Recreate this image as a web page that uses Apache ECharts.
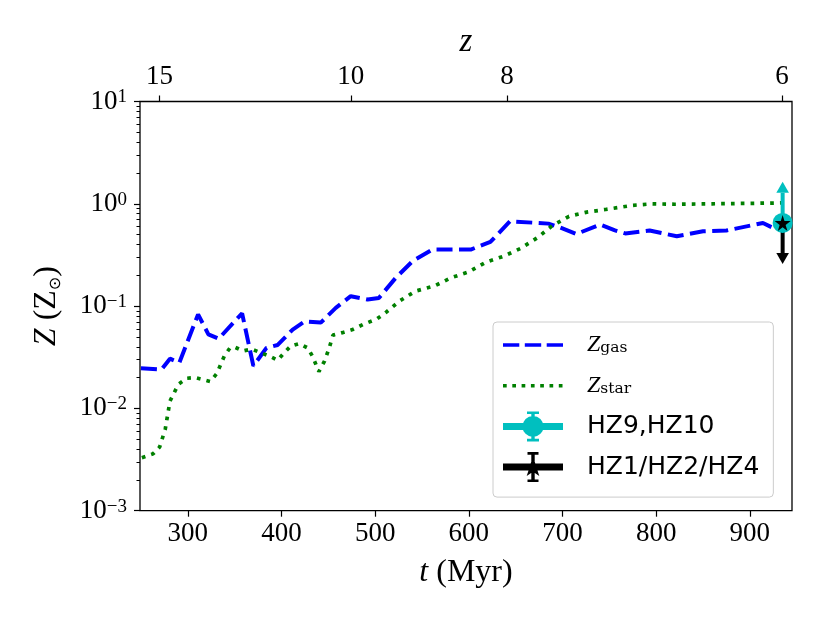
<!DOCTYPE html>
<html>
<head>
<meta charset="utf-8">
<script src="https://cdn.jsdelivr.net/npm/echarts@6/dist/echarts.min.js"></script>
<style>
  html, body { margin: 0; padding: 0; background: #fff; }
  #main { width: 830px; height: 623px; }
</style>
</head>
<body>
<div id="main"></div>
<script>
// gas metallicity, dashed blue line
var gasT = [250, 272, 281, 291, 311, 322, 333, 358, 370, 384, 396, 412, 425, 442, 458, 474, 492, 504, 522, 540,
  561, 602, 623, 644, 685, 696, 715, 740, 756, 767, 793, 822, 850, 875, 914, 925, 935];
var gasZ = [0.0247, 0.024, 0.0306, 0.028, 0.083, 0.053, 0.048, 0.085, 0.026, 0.039, 0.0417, 0.059, 0.071, 0.069, 0.096, 0.125, 0.116, 0.12, 0.189, 0.275,
  0.357, 0.357, 0.424, 0.675, 0.64, 0.594, 0.507, 0.627, 0.55, 0.513, 0.548, 0.482, 0.539, 0.548, 0.65, 0.58, 0.62];

// stellar metallicity, dotted green line
var starT = [251, 263, 270, 276, 281, 290, 299, 308, 324, 331, 339, 345, 350, 359, 368, 378, 387, 396, 403, 410,
  419, 428, 433, 440, 446, 451, 455, 465, 476, 487, 502, 511, 526, 543, 563, 581, 600, 618, 637, 655,
  673, 689, 707, 726, 746, 775, 796, 820, 860, 900, 935];
var starZ = [0.0033, 0.0036, 0.0042, 0.0063, 0.0118, 0.0172, 0.0197, 0.02, 0.0183, 0.0219, 0.0325, 0.039, 0.0398, 0.0364, 0.038, 0.035, 0.0325, 0.0296, 0.035, 0.0407,
  0.043, 0.039, 0.0325, 0.0229, 0.029, 0.039, 0.052, 0.055, 0.059, 0.066, 0.075, 0.086, 0.112, 0.14, 0.157, 0.189, 0.216, 0.268, 0.307, 0.365,
  0.464, 0.61, 0.755, 0.83, 0.88, 0.966, 1.0, 0.99, 1.0, 1.01, 1.02];

// observations at z~6 (value, limit end)
var hzT = 935;
var hz910Z = 0.65, hz910Lim = 1.28;   // lower limit, arrow up
var hz124Z = 0.65, hz124Lim = 0.33;   // upper limit, arrow down

// tick labels
var xTicks = [300, 400, 500, 600, 700, 800, 900];
var zTicks = [15, 10, 8, 6];
var zTickT = [269.8, 474, 640.8, 934.3];
var yMajor = [0.001, 0.01, 0.1, 1, 10];

var yMinor = [];
for (var d = -3; d < 1; d++) {
  for (var k = 2; k < 10; k++) yMinor.push(+(k * Math.pow(10, d)).toPrecision(3));
}

function pairs(a, b) { return a.map(function (t, i) { return [t, b[i]]; }); }

var serif = 'Liberation Serif';
var sans = 'DejaVu Sans';
var cyan = '#00bfbf';

// arrow errorbar (shaft + caret head)
function arrowItem(params, api) {
  var p0 = api.coord([api.value(0), api.value(1)]);
  var p1 = api.coord([api.value(0), api.value(2)]);
  var dir = p1[1] < p0[1] ? -1 : 1;
  var c = api.visual('color');
  return {
    type: 'group',
    children: [
      { type: 'line', shape: { x1: p0[0], y1: p0[1], x2: p1[0], y2: p1[1] }, style: { stroke: c, lineWidth: 4 } },
      { type: 'polygon', shape: { points: [[p1[0] - 6.3, p1[1]], [p1[0] + 6.3, p1[1]], [p1[0], p1[1] + dir * 11]] }, style: { fill: c } }
    ]
  };
}

var starPath = 'path://M50,0 L61,35 L98,35 L68,57 L79,91 L50,70 L21,91 L32,57 L2,35 L39,35 Z';

// legend icons drawn in a 60x30 box
var box = 'M0 0 M60 30 ';
function rect(x, y, w, h) { return 'M' + x + ' ' + y + ' h' + w + ' v' + h + ' h' + (-w) + ' Z '; }
var iconGas = 'path://' + box + rect(0, 13.2, 16.3, 3.6) + rect(21.8, 13.2, 16.4, 3.6) + rect(43.7, 13.2, 16.3, 3.6);
var iconStar = 'path://' + box + [0, 9.3, 18.6, 27.9, 37.2, 46.5, 55.8].map(function (x) { return rect(x, 13.2, 3.7, 3.6); }).join('');
var iconHz910 = 'path://' + box + rect(0, 11.5, 60, 7) + rect(28.3, 0, 3.4, 30) + rect(24, 0, 12, 2.6) + rect(24, 27.4, 12, 2.6) +
  'M40.5 15 A10.5 10.5 0 1 1 19.5 15 A10.5 10.5 0 1 1 40.5 15 Z';
var iconHz124 = 'path://' + box + rect(0, 11.5, 60, 7) + rect(28.3, 0, 3.4, 30) + rect(24.5, 0, 11, 2.6) + rect(24.5, 27.4, 11, 2.6) +
  'M30 5 L32.6 12.2 L40 12.2 L34 16.8 L36.3 24 L30 19.6 L23.7 24 L26 16.8 L20 12.2 L27.4 12.2 Z';

var legendText = {
  'Zgas': '{sp| }{z|Z}{sub|gas}',
  'Zstar': '{sp| }{z|Z}{sub|star}',
  'HZ9,HZ10': '{sp| }{h|HZ9,HZ10}',
  'HZ1/HZ2/HZ4': '{sp| }{h|HZ1/HZ2/HZ4}'
};

var myChart = echarts.init(document.getElementById('main'));

var option = {
  animation: false,
  backgroundColor: '#fff',
  grid: {
    left: 140, right: 38, top: 101.5, bottom: 112.3,
    show: true, borderColor: '#000', borderWidth: 1.3,
    outerBoundsMode: 'none'
  },
  xAxis: [
    {
      type: 'value', position: 'bottom', min: 249, max: 945,
      axisLine: { show: false },
      splitLine: { show: false },
      axisTick: { show: true, length: 6, customValues: xTicks, lineStyle: { color: '#000', width: 1.2 } },
      axisLabel: { customValues: xTicks, margin: 10, color: '#000', fontFamily: serif, fontSize: 27 },
      name: '{i|t}{r| (Myr)}',
      nameLocation: 'middle',
      nameGap: 46,
      nameTextStyle: {
        rich: {
          i: { fontFamily: serif, fontStyle: 'italic', fontSize: 32, color: '#000' },
          r: { fontFamily: serif, fontSize: 32, color: '#000' }
        }
      }
    },
    {
      type: 'value', position: 'top', min: 249, max: 945,
      axisLine: { show: false },
      splitLine: { show: false },
      axisTick: { show: true, length: 6, customValues: zTickT, lineStyle: { color: '#000', width: 1.2 } },
      axisLabel: {
        customValues: zTickT, margin: 11, color: '#000', fontFamily: serif, fontSize: 27,
        formatter: function (v) {
          var i = zTickT.indexOf(v);
          return i < 0 ? '' : String(zTicks[i]);
        }
      },
      name: 'z',
      nameLocation: 'middle',
      nameGap: 42,
      nameTextStyle: { fontFamily: serif, fontStyle: 'italic', fontSize: 33, color: '#000' }
    }
  ],
  yAxis: [
    {
      type: 'log', logBase: 10, min: 0.001, max: 10, position: 'left',
      axisLine: { show: false },
      splitLine: { show: false },
      axisTick: { show: true, length: 6, customValues: yMajor, lineStyle: { color: '#000', width: 1.2 } },
      axisLabel: {
        customValues: yMajor, margin: 13, color: '#000',
        formatter: function (v) {
          var e = Math.round(Math.log10(v));
          return '{b|10}{s|' + (e < 0 ? '\u2212' + (-e) : e) + '}';
        },
        rich: {
          b: { fontFamily: serif, fontSize: 27, lineHeight: 27, color: '#000' },
          s: { fontFamily: serif, fontSize: 19, lineHeight: 19, verticalAlign: 'top', color: '#000' }
        }
      },
      name: '{i|Z}{r| (Z}{o|\u2299}{r|)}',
      nameLocation: 'middle',
      nameRotate: 90,
      nameGap: 76,
      nameTextStyle: {
        rich: {
          i: { fontFamily: serif, fontStyle: 'italic', fontSize: 32, lineHeight: 34, color: '#000' },
          r: { fontFamily: serif, fontSize: 32, lineHeight: 34, color: '#000' },
          o: { fontFamily: 'DejaVu Sans', fontSize: 16, lineHeight: 16, verticalAlign: 'bottom', color: '#000' }
        }
      }
    },
    {
      type: 'log', logBase: 10, min: 0.001, max: 10, position: 'left',
      axisLine: { show: false },
      splitLine: { show: false },
      axisLabel: { show: false },
      axisTick: { show: true, length: 3.5, customValues: yMinor, lineStyle: { color: '#000', width: 1 } }
    }
  ],
  legend: {
    orient: 'vertical',
    left: 493, top: 322,
    padding: [8, 14, 15, 10],
    itemWidth: 60, itemHeight: 30, itemGap: 10.7,
    backgroundColor: 'rgba(255,255,255,0.8)',
    borderColor: '#cccccc', borderWidth: 1, borderRadius: 4,
    selectedMode: false,
    itemStyle: { borderWidth: 0 },
    data: [
      { name: 'Zgas', icon: iconGas, itemStyle: { color: '#0000ff', borderWidth: 0 } },
      { name: 'Zstar', icon: iconStar, itemStyle: { color: '#008000', borderWidth: 0 } },
      { name: 'HZ9,HZ10', icon: iconHz910, itemStyle: { color: cyan, borderWidth: 0 } },
      { name: 'HZ1/HZ2/HZ4', icon: iconHz124, itemStyle: { color: '#000', borderWidth: 0 } }
    ],
    formatter: function (name) { return legendText[name]; },
    textStyle: {
      color: '#000',
      rich: {
        sp: { width: 19, fontSize: 10 },
        z: { fontFamily: serif, fontStyle: 'italic', fontSize: 24, lineHeight: 30, color: '#000' },
        sub: { fontFamily: 'DejaVu Serif', fontSize: 15.5, lineHeight: 15, verticalAlign: 'bottom', padding: [0, 0, 4, 0], color: '#000' },
        h: { fontFamily: sans, fontSize: 25, lineHeight: 30, color: '#000' }
      }
    }
  },
  series: [
    {
      name: 'Zgas', type: 'line', xAxisIndex: 0, yAxisIndex: 0, z: 2,
      data: pairs(gasT, gasZ),
      symbol: 'none', showSymbol: false,
      itemStyle: { color: '#0000ff' },
      lineStyle: { color: '#0000ff', width: 4, type: [16, 6.5], cap: 'butt' }
    },
    {
      name: 'Zstar', type: 'line', xAxisIndex: 0, yAxisIndex: 0, z: 2,
      data: pairs(starT, starZ),
      symbol: 'none', showSymbol: false,
      itemStyle: { color: '#008000' },
      lineStyle: { color: '#008000', width: 3.7, type: [3.7, 6.1], cap: 'butt' }
    },
    {
      name: 'HZ9,HZ10', type: 'custom', xAxisIndex: 0, yAxisIndex: 0, z: 3,
      itemStyle: { color: cyan },
      renderItem: arrowItem,
      data: [[hzT, hz910Z, hz910Lim]]
    },
    {
      name: 'HZ1/HZ2/HZ4', type: 'custom', xAxisIndex: 0, yAxisIndex: 0, z: 3,
      itemStyle: { color: '#000' },
      renderItem: arrowItem,
      data: [[hzT, hz124Z, hz124Lim]]
    },
    {
      name: 'HZ9,HZ10', type: 'scatter', xAxisIndex: 0, yAxisIndex: 0, z: 4,
      symbol: 'circle', symbolSize: 20,
      itemStyle: { color: cyan, opacity: 1 },
      data: [[hzT, hz910Z]]
    },
    {
      name: 'HZ1/HZ2/HZ4', type: 'scatter', xAxisIndex: 0, yAxisIndex: 0, z: 5,
      symbol: starPath, symbolSize: 16,
      itemStyle: { color: '#000', opacity: 1 },
      data: [[hzT, hz124Z]]
    }
  ]
};

myChart.setOption(option);
</script>
</body>
</html>
